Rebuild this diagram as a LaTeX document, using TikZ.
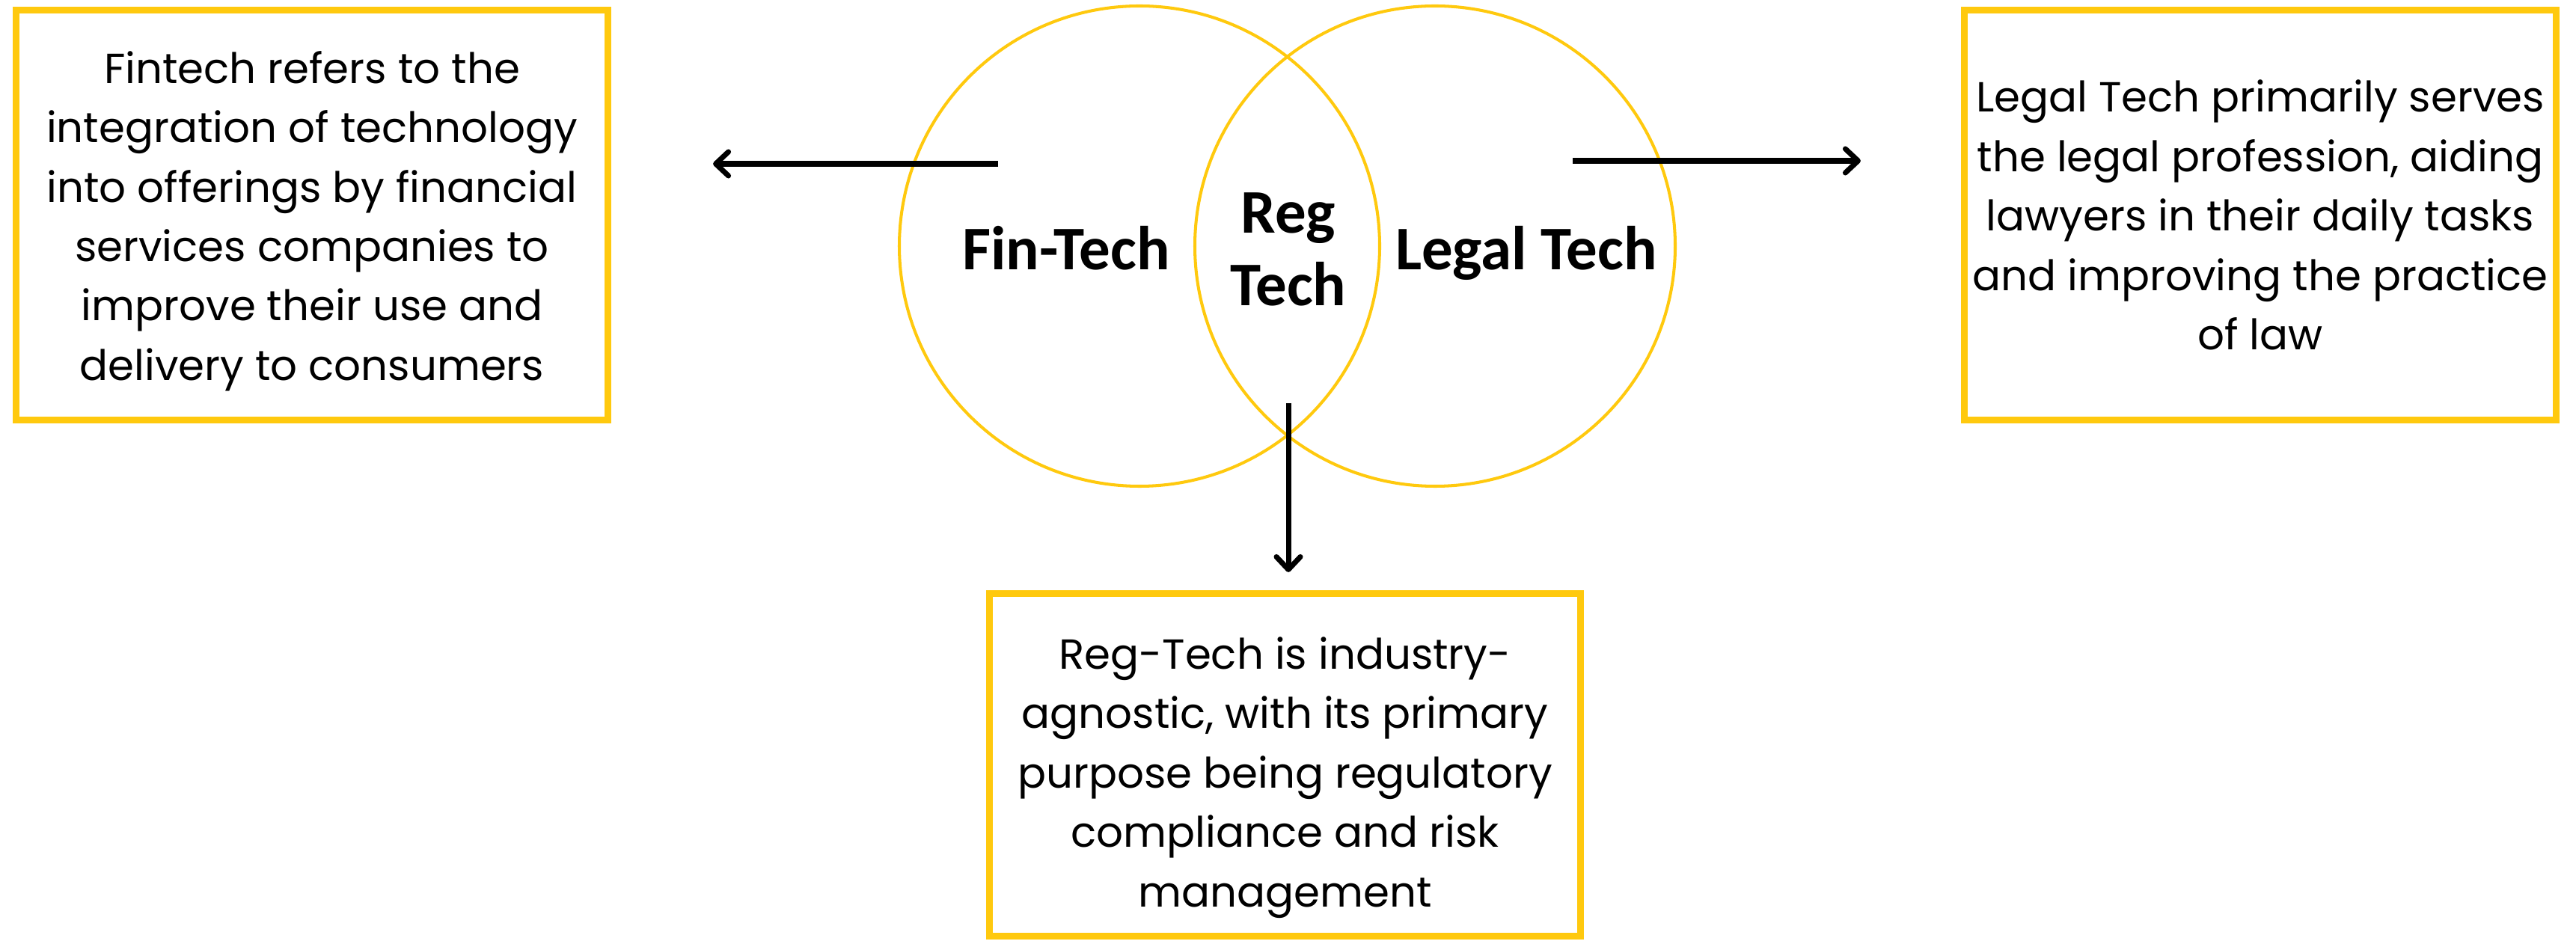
\documentclass[tikz,border=0pt]{standalone}
\usepackage{fontspec}
\setmainfont{Poppins}
\newfontfamily\labelfont{Carlito}
\usetikzlibrary{positioning,arrows.meta}
\definecolor{venngold}{RGB}{255,201,14}

\begin{document}
\begin{tikzpicture}[
    every node/.style={
        align=center,
        font=\fontsize{16}{22.6}\selectfont
    },
    infobox/.style={draw=venngold, line width=2.6pt, inner sep=0pt,
        minimum width=7.91cm, minimum height=5.48cm},
    techcircle/.style={draw=venngold, line width=1.15pt, circle, inner sep=0pt,
        minimum size=6.42cm},
    techlabel/.style={font=\labelfont\bfseries\fontsize{23.6}{27.6}\selectfont},
    arrow/.style={-{Straight Barb[length=1.7mm, width=3.2mm, round]}, line width=2pt}
]
\useasboundingbox (0,0) rectangle (34.43,12.61);

% Venn circles in the middle
\node[techcircle] (fincircle) at (15.23,9.32) {};
\node[techcircle] (legalcircle) at (19.18,9.32) {};

% Circle labels
\node[techlabel, anchor=base] (finlabel) at (14.25,9.00) {Fin-Tech};
\node[techlabel] (reglabel) at (17.22,9.28) {Reg\\Tech};
\node[techlabel, anchor=base] (legallabel) at (20.40,9.00) {Legal Tech};

% Description boxes
\node[infobox] (finbox) at (4.17,9.735) {};
\node[infobox] (legalbox) at (30.21,9.735) {};
\node[infobox, minimum width=7.90cm, minimum height=4.58cm] (regbox) at (17.175,2.385) {};

% Box texts
\node (fintext) at ([yshift=-0.08cm]finbox.center) {Fintech refers to the\\integration of technology\\into offerings by financial\\services companies to\\improve their use and\\delivery to consumers};
\node (legaltext) at (legalbox.center) {Legal Tech primarily serves\\the legal profession, aiding\\lawyers in their daily tasks\\and improving the practice\\of law};
\node (regtext) at ([yshift=-0.17cm]regbox.center) {Reg-Tech is industry-\\agnostic, with its primary\\purpose being regulatory\\compliance and risk\\management};

% Arrows from the circles to the boxes
\coordinate (finstart) at (13.34,10.42);
\coordinate (legalstart) at (21.02,10.46);
\coordinate (regstart) at (17.22,7.22);
\draw[arrow, shorten >=1.36cm] (finstart) -- (finstart -| finbox.east);
\draw[arrow, shorten >=1.34cm] (legalstart) -- (legalstart -| legalbox.west);
\draw[arrow, shorten >=0.24cm] (regstart) -- (regstart |- regbox.north);

\end{tikzpicture}
\end{document}
